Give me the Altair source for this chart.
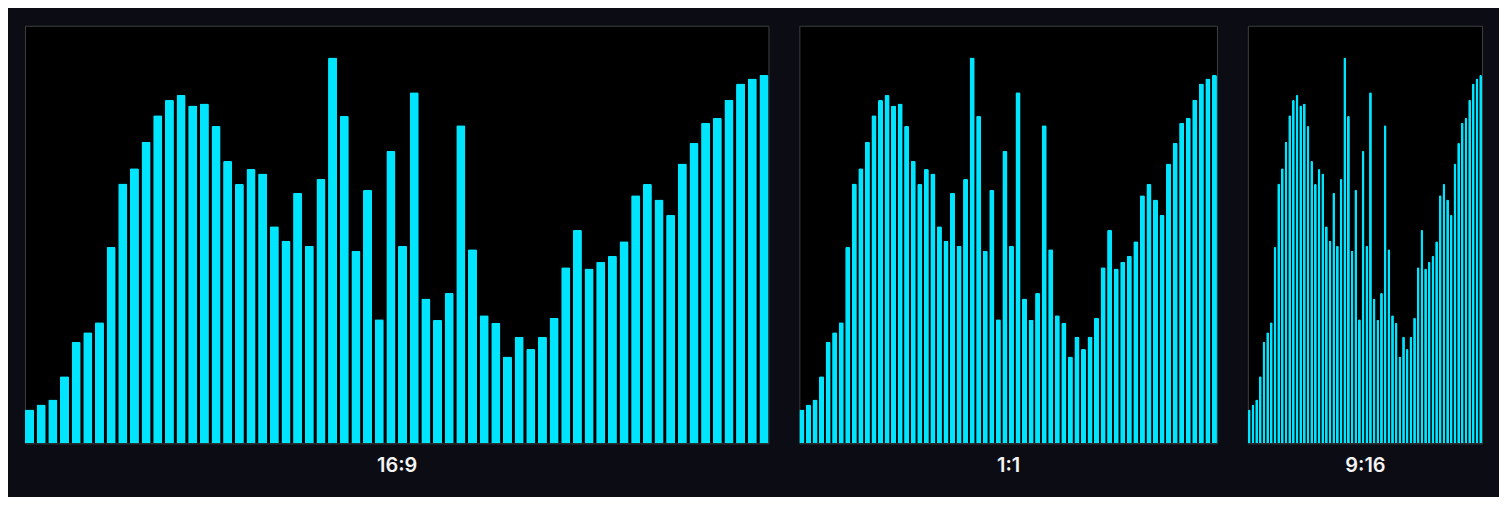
import altair as alt
import pandas as pd

values = [8.1, 9.3, 10.5, 16.1, 24.3, 26.6, 29.0, 47.0, 62.2, 65.9,
          72.2, 78.6, 82.2, 83.4, 80.9, 81.4, 76.0, 67.6, 62.1, 65.7,
          64.6, 52.0, 48.5, 60.0, 47.3, 63.3, 92.4, 78.4, 46.1, 60.7,
          29.7, 70.0, 47.3, 84.1, 34.7, 29.6, 36.0, 76.2, 46.5, 30.7,
          28.9, 20.8, 25.5, 22.6, 25.5, 30.1, 42.2, 51.1, 41.9, 43.5,
          44.9, 48.4, 59.4, 62.1, 58.4, 54.7, 67.0, 71.9, 76.8, 77.9,
          82.3, 86.2, 87.4, 88.2]
index = list(range(1, len(values) + 1))
labels = ["16:9", "1:1", "9:16"]
widths = [746, 419, 235]

df = pd.DataFrame({"i": index, "v": values})


def panel(w, label):
    return alt.Chart(df).mark_bar(
        color="#00E5FF", cornerRadiusTopLeft=1.5, cornerRadiusTopRight=1.5
    ).encode(
        x=alt.X("i:O", title=label,
                scale=alt.Scale(paddingInner=0.22, paddingOuter=0),
                axis=alt.Axis(labels=False, ticks=False, domain=False,
                              titlePadding=12, titleFontSize=20,
                              titleColor="#f4f4f4", titleFont="Inter",
                              titleFontWeight=600)),
        y=alt.Y("v:Q", scale=alt.Scale(domain=[0, 100]), axis=None),
    ).properties(width=w, height=419)


chart = alt.hconcat(
    *[panel(w, l) for w, l in zip(widths, labels)], spacing=29
).configure(
    background="#0b0c14",
    padding={"left": 16, "top": 16, "right": 16, "bottom": 20},
).configure_view(fill="#000000", stroke="#3f3f3f", strokeWidth=1)

chart.save("out.html", embed_options={"renderer": "svg", "actions": False})
